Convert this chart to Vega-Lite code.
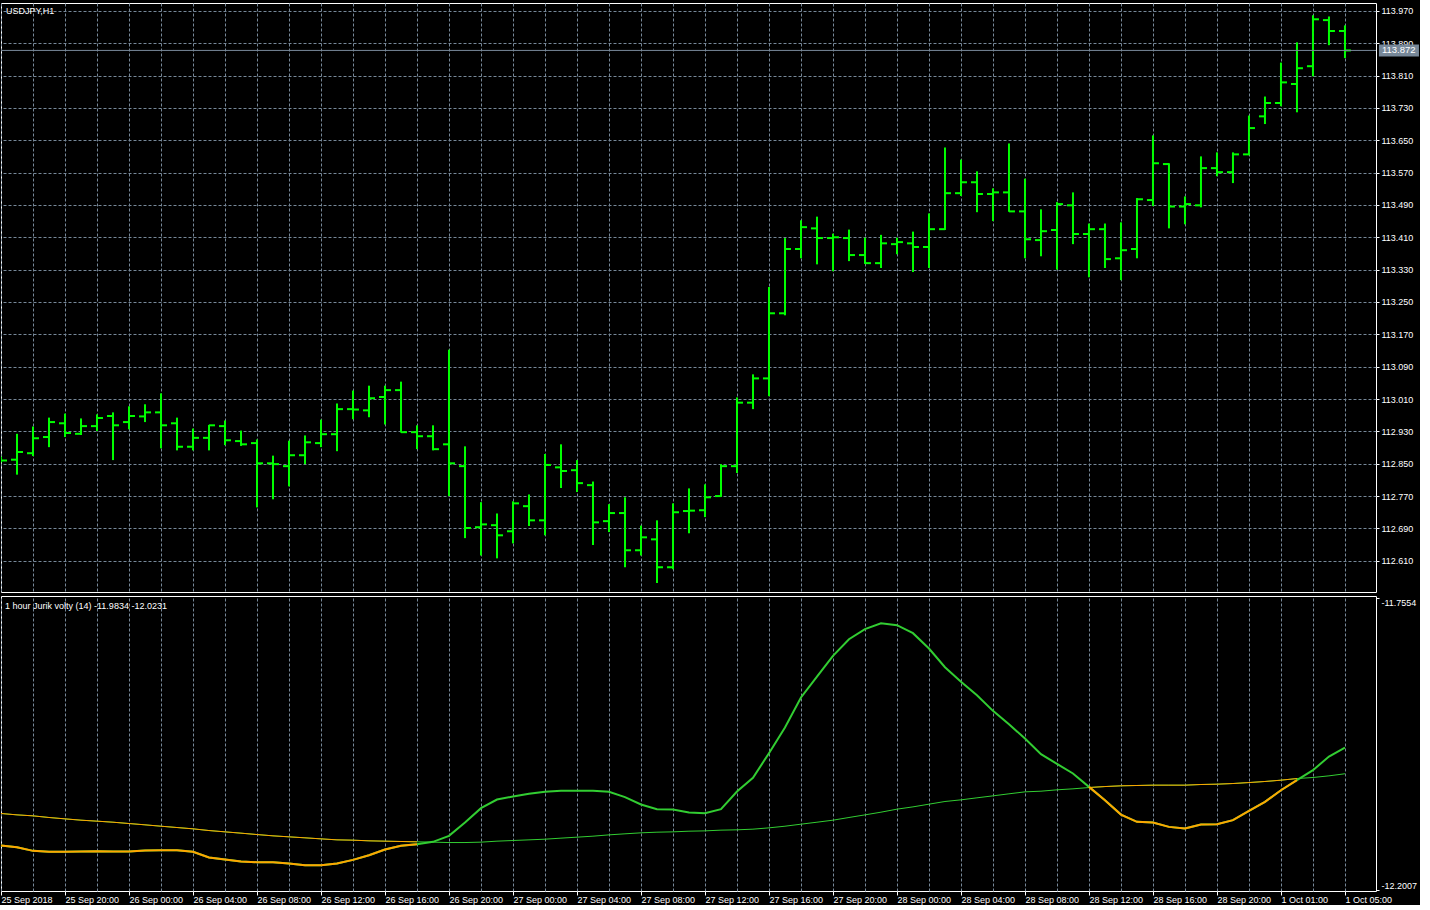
{
  "$schema": "https://vega.github.io/schema/vega-lite/v6.json",
  "background": "black",
  "padding": {"left": -4, "top": 2, "right": 0, "bottom": 0},
  "spacing": 2,
  "config": {
    "view": {"stroke": "white", "strokeWidth": 1},
    "font": "Liberation Sans",
    "axis": {
      "labelFont": "Liberation Sans",
      "labelFontSize": 9,
      "labelColor": "white",
      "tickColor": "white",
      "domain": false,
      "gridColor": "#778899",
      "gridDash": [3, 2],
      "gridOpacity": 1,
      "labelOverlap": false,
      "tickCount": 200
    }
  },
  "datasets": {
    "bars": [
      {"i":0,"open":112.859,"high":112.868,"low":112.853,"close":112.858},
      {"i":1,"open":112.860,"high":112.924,"low":112.823,"close":112.879},
      {"i":2,"open":112.876,"high":112.942,"low":112.869,"close":112.913},
      {"i":3,"open":112.916,"high":112.964,"low":112.891,"close":112.953},
      {"i":4,"open":112.950,"high":112.974,"low":112.916,"close":112.926},
      {"i":5,"open":112.924,"high":112.962,"low":112.921,"close":112.943},
      {"i":6,"open":112.943,"high":112.972,"low":112.931,"close":112.963},
      {"i":7,"open":112.968,"high":112.977,"low":112.859,"close":112.945},
      {"i":8,"open":112.953,"high":112.992,"low":112.935,"close":112.968},
      {"i":9,"open":112.967,"high":112.997,"low":112.953,"close":112.977},
      {"i":10,"open":112.977,"high":113.024,"low":112.888,"close":112.945},
      {"i":11,"open":112.950,"high":112.964,"low":112.883,"close":112.892},
      {"i":12,"open":112.892,"high":112.937,"low":112.883,"close":112.914},
      {"i":13,"open":112.914,"high":112.946,"low":112.883,"close":112.945},
      {"i":14,"open":112.943,"high":112.957,"low":112.896,"close":112.908},
      {"i":15,"open":112.906,"high":112.932,"low":112.894,"close":112.898},
      {"i":16,"open":112.901,"high":112.910,"low":112.742,"close":112.851},
      {"i":17,"open":112.851,"high":112.870,"low":112.762,"close":112.849},
      {"i":18,"open":112.844,"high":112.907,"low":112.794,"close":112.871},
      {"i":19,"open":112.871,"high":112.920,"low":112.849,"close":112.903},
      {"i":20,"open":112.901,"high":112.959,"low":112.891,"close":112.923},
      {"i":21,"open":112.923,"high":112.999,"low":112.881,"close":112.985},
      {"i":22,"open":112.985,"high":113.031,"low":112.960,"close":112.984},
      {"i":23,"open":112.982,"high":113.043,"low":112.965,"close":113.012},
      {"i":24,"open":113.015,"high":113.043,"low":112.947,"close":113.032},
      {"i":25,"open":113.032,"high":113.053,"low":112.927,"close":112.928},
      {"i":26,"open":112.928,"high":112.945,"low":112.886,"close":112.918},
      {"i":27,"open":112.918,"high":112.945,"low":112.883,"close":112.886},
      {"i":28,"open":112.898,"high":113.132,"low":112.770,"close":112.851},
      {"i":29,"open":112.844,"high":112.893,"low":112.666,"close":112.691},
      {"i":30,"open":112.693,"high":112.755,"low":112.623,"close":112.700},
      {"i":31,"open":112.698,"high":112.727,"low":112.616,"close":112.673},
      {"i":32,"open":112.683,"high":112.757,"low":112.653,"close":112.752},
      {"i":33,"open":112.745,"high":112.774,"low":112.696,"close":112.710},
      {"i":34,"open":112.710,"high":112.874,"low":112.673,"close":112.847},
      {"i":35,"open":112.841,"high":112.898,"low":112.790,"close":112.832},
      {"i":36,"open":112.834,"high":112.859,"low":112.780,"close":112.802},
      {"i":37,"open":112.797,"high":112.806,"low":112.649,"close":112.705},
      {"i":38,"open":112.708,"high":112.750,"low":112.681,"close":112.728},
      {"i":39,"open":112.728,"high":112.767,"low":112.594,"close":112.636},
      {"i":40,"open":112.636,"high":112.697,"low":112.623,"close":112.668},
      {"i":41,"open":112.663,"high":112.710,"low":112.555,"close":112.594},
      {"i":42,"open":112.594,"high":112.752,"low":112.589,"close":112.730},
      {"i":43,"open":112.733,"high":112.789,"low":112.678,"close":112.734},
      {"i":44,"open":112.735,"high":112.799,"low":112.718,"close":112.767},
      {"i":45,"open":112.770,"high":112.849,"low":112.768,"close":112.844},
      {"i":46,"open":112.844,"high":113.014,"low":112.827,"close":113.001},
      {"i":47,"open":113.001,"high":113.071,"low":112.985,"close":113.061},
      {"i":48,"open":113.061,"high":113.287,"low":113.017,"close":113.222},
      {"i":49,"open":113.222,"high":113.408,"low":113.217,"close":113.381},
      {"i":50,"open":113.381,"high":113.452,"low":113.358,"close":113.435},
      {"i":51,"open":113.432,"high":113.461,"low":113.343,"close":113.408},
      {"i":52,"open":113.408,"high":113.419,"low":113.326,"close":113.410},
      {"i":53,"open":113.408,"high":113.429,"low":113.351,"close":113.366},
      {"i":54,"open":113.366,"high":113.409,"low":113.344,"close":113.346},
      {"i":55,"open":113.346,"high":113.416,"low":113.334,"close":113.395},
      {"i":56,"open":113.393,"high":113.409,"low":113.368,"close":113.398},
      {"i":57,"open":113.395,"high":113.424,"low":113.324,"close":113.386},
      {"i":58,"open":113.386,"high":113.469,"low":113.334,"close":113.430},
      {"i":59,"open":113.430,"high":113.632,"low":113.428,"close":113.519},
      {"i":60,"open":113.519,"high":113.602,"low":113.512,"close":113.546},
      {"i":61,"open":113.546,"high":113.573,"low":113.472,"close":113.517},
      {"i":62,"open":113.517,"high":113.531,"low":113.450,"close":113.521},
      {"i":63,"open":113.521,"high":113.642,"low":113.473,"close":113.474},
      {"i":64,"open":113.474,"high":113.555,"low":113.358,"close":113.405},
      {"i":65,"open":113.403,"high":113.479,"low":113.363,"close":113.425},
      {"i":66,"open":113.428,"high":113.497,"low":113.330,"close":113.492},
      {"i":67,"open":113.489,"high":113.521,"low":113.393,"close":113.418},
      {"i":68,"open":113.418,"high":113.444,"low":113.311,"close":113.430},
      {"i":69,"open":113.430,"high":113.444,"low":113.334,"close":113.356},
      {"i":70,"open":113.358,"high":113.447,"low":113.304,"close":113.378},
      {"i":71,"open":113.381,"high":113.507,"low":113.358,"close":113.504},
      {"i":72,"open":113.502,"high":113.662,"low":113.487,"close":113.593},
      {"i":73,"open":113.591,"high":113.593,"low":113.432,"close":113.486},
      {"i":74,"open":113.486,"high":113.511,"low":113.442,"close":113.492},
      {"i":75,"open":113.489,"high":113.610,"low":113.484,"close":113.581},
      {"i":76,"open":113.581,"high":113.620,"low":113.561,"close":113.571},
      {"i":77,"open":113.571,"high":113.620,"low":113.544,"close":113.615},
      {"i":78,"open":113.615,"high":113.711,"low":113.613,"close":113.680},
      {"i":79,"open":113.709,"high":113.758,"low":113.690,"close":113.742},
      {"i":80,"open":113.742,"high":113.842,"low":113.734,"close":113.793},
      {"i":81,"open":113.789,"high":113.892,"low":113.719,"close":113.828},
      {"i":82,"open":113.833,"high":113.959,"low":113.808,"close":113.949},
      {"i":83,"open":113.947,"high":113.956,"low":113.885,"close":113.920},
      {"i":84,"open":113.920,"high":113.934,"low":113.853,"close":113.872}
    ],
    "ind": [
      {"i":0,"jv":-12.1325,"sig":-12.0837,"o":"a"},
      {"i":1,"jv":-12.1351,"sig":-12.0858,"o":"a"},
      {"i":2,"jv":-12.1407,"sig":-12.0873,"o":"a"},
      {"i":3,"jv":-12.1422,"sig":-12.0898,"o":"a"},
      {"i":4,"jv":-12.1422,"sig":-12.0919,"o":"a"},
      {"i":5,"jv":-12.1417,"sig":-12.0939,"o":"a"},
      {"i":6,"jv":-12.1412,"sig":-12.0954,"o":"a"},
      {"i":7,"jv":-12.1417,"sig":-12.0970,"o":"a"},
      {"i":8,"jv":-12.1417,"sig":-12.0990,"o":"a"},
      {"i":9,"jv":-12.1402,"sig":-12.1010,"o":"a"},
      {"i":10,"jv":-12.1396,"sig":-12.1031,"o":"a"},
      {"i":11,"jv":-12.1396,"sig":-12.1051,"o":"a"},
      {"i":12,"jv":-12.1422,"sig":-12.1071,"o":"a"},
      {"i":13,"jv":-12.1508,"sig":-12.1097,"o":"a"},
      {"i":14,"jv":-12.1539,"sig":-12.1117,"o":"a"},
      {"i":15,"jv":-12.1569,"sig":-12.1137,"o":"a"},
      {"i":16,"jv":-12.1580,"sig":-12.1158,"o":"a"},
      {"i":17,"jv":-12.1580,"sig":-12.1178,"o":"a"},
      {"i":18,"jv":-12.1600,"sig":-12.1193,"o":"a"},
      {"i":19,"jv":-12.1625,"sig":-12.1208,"o":"a"},
      {"i":20,"jv":-12.1625,"sig":-12.1224,"o":"a"},
      {"i":21,"jv":-12.1600,"sig":-12.1239,"o":"a"},
      {"i":22,"jv":-12.1544,"sig":-12.1244,"o":"a"},
      {"i":23,"jv":-12.1473,"sig":-12.1254,"o":"a"},
      {"i":24,"jv":-12.1386,"sig":-12.1259,"o":"a"},
      {"i":25,"jv":-12.1330,"sig":-12.1264,"o":"a"},
      {"i":26,"jv":-12.1305,"sig":-12.1269,"o":"a"},
      {"i":27,"jv":-12.1269,"sig":-12.1274},
      {"i":28,"jv":-12.1178,"sig":-12.1280},
      {"i":29,"jv":-12.0975,"sig":-12.1280},
      {"i":30,"jv":-12.0756,"sig":-12.1274},
      {"i":31,"jv":-12.0624,"sig":-12.1259},
      {"i":32,"jv":-12.0578,"sig":-12.1249},
      {"i":33,"jv":-12.0537,"sig":-12.1239},
      {"i":34,"jv":-12.0507,"sig":-12.1229},
      {"i":35,"jv":-12.0492,"sig":-12.1213},
      {"i":36,"jv":-12.0492,"sig":-12.1198},
      {"i":37,"jv":-12.0492,"sig":-12.1183},
      {"i":38,"jv":-12.0507,"sig":-12.1163},
      {"i":39,"jv":-12.0588,"sig":-12.1147},
      {"i":40,"jv":-12.0700,"sig":-12.1132},
      {"i":41,"jv":-12.0771,"sig":-12.1122},
      {"i":42,"jv":-12.0776,"sig":-12.1117},
      {"i":43,"jv":-12.0822,"sig":-12.1107},
      {"i":44,"jv":-12.0832,"sig":-12.1102},
      {"i":45,"jv":-12.0771,"sig":-12.1091},
      {"i":46,"jv":-12.0502,"sig":-12.1086},
      {"i":47,"jv":-12.0293,"sig":-12.1076},
      {"i":48,"jv":-11.9917,"sig":-12.1056},
      {"i":49,"jv":-11.9526,"sig":-12.1031},
      {"i":50,"jv":-11.9068,"sig":-12.1000},
      {"i":51,"jv":-11.8748,"sig":-12.0970},
      {"i":52,"jv":-11.8433,"sig":-12.0939},
      {"i":53,"jv":-11.8179,"sig":-12.0898},
      {"i":54,"jv":-11.8026,"sig":-12.0858},
      {"i":55,"jv":-11.7935,"sig":-12.0817},
      {"i":56,"jv":-11.7965,"sig":-12.0771},
      {"i":57,"jv":-11.8087,"sig":-12.0736},
      {"i":58,"jv":-11.8321,"sig":-12.0695},
      {"i":59,"jv":-11.8606,"sig":-12.0654},
      {"i":60,"jv":-11.8829,"sig":-12.0629},
      {"i":61,"jv":-11.9033,"sig":-12.0598},
      {"i":62,"jv":-11.9272,"sig":-12.0568},
      {"i":63,"jv":-11.9475,"sig":-12.0537},
      {"i":64,"jv":-11.9694,"sig":-12.0507},
      {"i":65,"jv":-11.9933,"sig":-12.0497},
      {"i":66,"jv":-12.0080,"sig":-12.0476},
      {"i":67,"jv":-12.0227,"sig":-12.0461},
      {"i":68,"jv":-12.0431,"sig":-12.0441,"o":"b"},
      {"i":69,"jv":-12.0634,"sig":-12.0426,"o":"b"},
      {"i":70,"jv":-12.0853,"sig":-12.0415,"o":"b"},
      {"i":71,"jv":-12.0964,"sig":-12.0410,"o":"b"},
      {"i":72,"jv":-12.0975,"sig":-12.0405,"o":"b"},
      {"i":73,"jv":-12.1041,"sig":-12.0405,"o":"b"},
      {"i":74,"jv":-12.1066,"sig":-12.0405,"o":"b"},
      {"i":75,"jv":-12.1005,"sig":-12.0395,"o":"b"},
      {"i":76,"jv":-12.1000,"sig":-12.0390,"o":"b"},
      {"i":77,"jv":-12.0939,"sig":-12.0380,"o":"b"},
      {"i":78,"jv":-12.0797,"sig":-12.0365,"o":"b"},
      {"i":79,"jv":-12.0659,"sig":-12.0349,"o":"b"},
      {"i":80,"jv":-12.0482,"sig":-12.0329,"o":"b"},
      {"i":81,"jv":-12.0329,"sig":-12.0304,"o":"b"},
      {"i":82,"jv":-12.0177,"sig":-12.0288},
      {"i":83,"jv":-11.9968,"sig":-12.0263},
      {"i":84,"jv":-11.9834,"sig":-12.0231}
    ],
    "last": [{"price": 113.872, "label": "113.872"}],
    "notes1": [{"label": "USDJPY,H1"}],
    "notes2": [{"label": "1 hour Jurik volty (14) -11.9834 -12.0231"}]
  },
  "vconcat": [
    {
      "width": 1375,
      "height": 589,
      "layer": [
        {
          "data": {"name": "bars"},
          "mark": {"type": "rule", "color": "#00FF00", "strokeWidth": 2, "clip": true},
          "encoding": {
            "x": {"field": "i", "type": "quantitative", "scale": {"domain": [0, 85.94], "zero": false, "nice": false},
              "axis": {"values": [0,2,4,6,8,10,12,14,16,18,20,22,24,26,28,30,32,34,36,38,40,42,44,46,48,50,52,54,56,58,60,62,64,66,68,70,72,74,76,78,80,82,84], "tickCount": 200, "grid": true, "labels": false, "ticks": false, "domain": false, "title": null}},
            "y": {"field": "low", "type": "quantitative", "scale": {"domain": [112.5328, 113.9893], "zero": false, "nice": false},
              "axis": {"orient": "right", "values": [112.61,112.69,112.77,112.85,112.93,113.01,113.09,113.17,113.25,113.33,113.41,113.49,113.57,113.65,113.73,113.81,113.89,113.97], "tickCount": 200, "format": ".3f", "grid": true, "tickSize": 3, "labelPadding": 2, "domain": false, "title": null, "labelFlush": false}},
            "y2": {"field": "high"}
          }
        },
        {
          "data": {"name": "bars"},
          "mark": {"type": "tick", "orient": "horizontal", "color": "#00FF00", "size": 6, "thickness": 2, "xOffset": -3, "opacity": 1, "clip": true},
          "encoding": {
            "x": {"field": "i", "type": "quantitative"},
            "y": {"field": "open", "type": "quantitative"}
          }
        },
        {
          "data": {"name": "bars"},
          "mark": {"type": "tick", "orient": "horizontal", "color": "#00FF00", "size": 6, "thickness": 2, "xOffset": 3, "opacity": 1, "clip": true},
          "encoding": {
            "x": {"field": "i", "type": "quantitative"},
            "y": {"field": "close", "type": "quantitative"}
          }
        },
        {
          "data": {"name": "last"},
          "mark": {"type": "rule", "color": "#778899", "strokeWidth": 1},
          "encoding": {
            "y": {"field": "price", "type": "quantitative"}
          }
        },
        {
          "data": {"name": "last"},
          "mark": {"type": "tick", "orient": "horizontal", "color": "#778899", "size": 40, "thickness": 12, "xOffset": 22, "opacity": 1},
          "encoding": {
            "x": {"datum": 86, "type": "quantitative"},
            "y": {"field": "price", "type": "quantitative"}
          }
        },
        {
          "data": {"name": "last"},
          "mark": {"type": "text", "color": "white", "font": "Liberation Sans", "fontSize": 9.5, "align": "left", "baseline": "middle", "dx": 5},
          "encoding": {
            "x": {"datum": 86, "type": "quantitative"},
            "y": {"field": "price", "type": "quantitative"},
            "text": {"field": "label"}
          }
        },
        {
          "data": {"name": "notes1"},
          "mark": {"type": "text", "color": "white", "font": "Liberation Sans", "fontSize": 9, "align": "left", "baseline": "middle", "dx": 5, "dy": 8},
          "encoding": {
            "x": {"datum": 0, "type": "quantitative"},
            "y": {"datum": 113.9893, "type": "quantitative"},
            "text": {"field": "label"}
          }
        }
      ]
    },
    {
      "width": 1375,
      "height": 295,
      "resolve": {"axis": {"x": "independent"}},
      "layer": [
        {
          "data": {"name": "ind"},
          "mark": {"type": "line", "color": "#32CD32", "strokeWidth": 1},
          "encoding": {
            "x": {"field": "i", "type": "quantitative", "scale": {"domain": [0, 85.94], "zero": false, "nice": false},
              "axis": {"orient": "bottom", "values": [0,4,8,12,16,20,24,28,32,36,40,44,48,52,56,60,64,68,72,76,80,84], "tickCount": 200, "grid": false, "domain": false, "title": null,
                "ticks": true, "labels": true, "tickSize": 4, "tickColor": "white", "labelAlign": "left", "labelBaseline": "top", "labelPadding": 0, "labelFlush": false,
                "labelExpr": "datum.value == 0 ? '25 Sep 2018' : datum.value == 4 ? '25 Sep 20:00' : datum.value == 8 ? '26 Sep 00:00' : datum.value == 12 ? '26 Sep 04:00' : datum.value == 16 ? '26 Sep 08:00' : datum.value == 20 ? '26 Sep 12:00' : datum.value == 24 ? '26 Sep 16:00' : datum.value == 28 ? '26 Sep 20:00' : datum.value == 32 ? '27 Sep 00:00' : datum.value == 36 ? '27 Sep 04:00' : datum.value == 40 ? '27 Sep 08:00' : datum.value == 44 ? '27 Sep 12:00' : datum.value == 48 ? '27 Sep 16:00' : datum.value == 52 ? '27 Sep 20:00' : datum.value == 56 ? '28 Sep 00:00' : datum.value == 60 ? '28 Sep 04:00' : datum.value == 64 ? '28 Sep 08:00' : datum.value == 68 ? '28 Sep 12:00' : datum.value == 72 ? '28 Sep 16:00' : datum.value == 76 ? '28 Sep 20:00' : datum.value == 80 ? '1 Oct 01:00' : datum.value == 84 ? '1 Oct 05:00' : ''"}},
            "y": {"field": "sig", "type": "quantitative", "scale": {"domain": [-12.2019, -11.752], "zero": false, "nice": false},
              "axis": {"orient": "right", "values": [-12.2007, -11.7554], "tickCount": 200, "grid": false, "tickSize": 3, "labelPadding": 2, "domain": false, "title": null, "labelFlush": 3,
                "labelExpr": "datum.value < -12 ? '-12.2007' : '-11.7554'"}}
          }
        },
        {
          "data": {"name": "ind"},
          "mark": {"type": "line", "color": "#32CD32", "strokeWidth": 2},
          "encoding": {
            "x": {"field": "i", "type": "quantitative",
              "axis": {"values": [0,2,4,6,8,10,12,14,16,18,20,22,24,26,28,30,32,34,36,38,40,42,44,46,48,50,52,54,56,58,60,62,64,66,68,70,72,74,76,78,80,82,84], "tickCount": 200, "grid": true, "labels": false, "ticks": false, "domain": false, "title": null}},
            "y": {"field": "jv", "type": "quantitative"}
          }
        },
        {
          "data": {"name": "ind"},
          "transform": [{"filter": "isValid(datum.o)"}],
          "mark": {"type": "line", "color": "#FFA500", "strokeWidth": 1},
          "encoding": {
            "x": {"field": "i", "type": "quantitative", "axis": null},
            "y": {"field": "sig", "type": "quantitative"},
            "detail": {"field": "o"}
          }
        },
        {
          "data": {"name": "ind"},
          "transform": [{"filter": "isValid(datum.o)"}],
          "mark": {"type": "line", "color": "#FFA500", "strokeWidth": 2},
          "encoding": {
            "x": {"field": "i", "type": "quantitative", "axis": null},
            "y": {"field": "jv", "type": "quantitative"},
            "detail": {"field": "o"}
          }
        },
        {
          "data": {"name": "notes2"},
          "mark": {"type": "text", "color": "white", "font": "Liberation Sans", "fontSize": 9, "align": "left", "baseline": "middle", "dx": 4, "dy": 10},
          "encoding": {
            "x": {"datum": 0, "type": "quantitative", "axis": null},
            "y": {"datum": -11.752, "type": "quantitative"},
            "text": {"field": "label"}
          }
        }
      ]
    }
  ]
}
